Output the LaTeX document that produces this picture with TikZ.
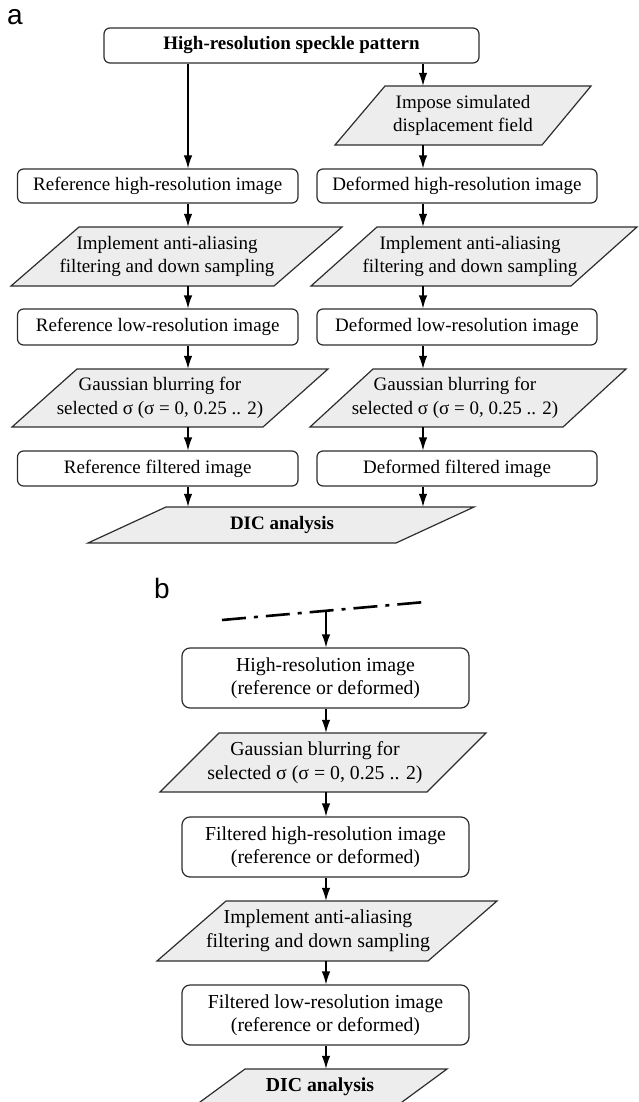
\documentclass[tikz,border=0pt]{standalone}
\usepackage{fontspec}
\setmainfont{Liberation Serif}
\newfontfamily\labfont{Liberation Sans}
\usetikzlibrary{arrows.meta}
\definecolor{parafill}{RGB}{237,237,237}
\definecolor{edge}{RGB}{45,45,45}
\begin{document}
\begin{tikzpicture}[x=1pt,y=-1pt,
  box/.style={draw=edge, line width=1.2pt, rounded corners=6pt, fill=white, align=center, inner sep=0pt},
  bbox/.style={box, rounded corners=8pt, minimum width=287pt, minimum height=60pt},
  txt/.style={align=center, inner sep=0pt},
  para/.style={draw=edge, fill=parafill, line width=1.2pt, line join=miter},
  arr/.style={-{Latex[length=13pt,width=8.5pt]}, line width=1.2pt},
  fa/.style={font=\fontsize{19}{23.5}\selectfont},
  fb/.style={font=\fontsize{19.8}{23.5}\selectfont},
  lab/.style={font=\labfont\fontsize{28}{30}\selectfont, anchor=base west, inner sep=0pt}]
\useasboundingbox (0,0) rectangle (639,1102);
\clip (0,0) rectangle (639,1102);

% ---------- parallelogram shapes ----------
\draw[para] (385,86) -- (591,86) -- (542,145) -- (335,145) -- cycle;
\draw[para] (79,227) -- (342,227) -- (274,286) -- (11,286) -- cycle;
\draw[para] (377,227) -- (637,227) -- (571,286) -- (311,286) -- cycle;
\draw[para] (77,369) -- (328,369) -- (263,427) -- (12,427) -- cycle;
\draw[para] (373,369) -- (626,369) -- (563,427) -- (310,427) -- cycle;
\draw[para] (166,507) -- (474,507) -- (396,543) -- (88,543) -- cycle;
\draw[para] (219,733) -- (486,733) -- (427,792) -- (160,792) -- cycle;
\draw[para] (226,901) -- (497,901) -- (428,961) -- (157,961) -- cycle;
\draw[para] (245,1069) -- (447,1069) -- (398,1105) -- (196,1105) -- cycle;

% ---------- labels ----------
\node[lab] (la) at (7,25) {a};
\node[lab] (lb) at (154,598) {b};

% ---------- part a ----------
\coordinate (cL) at (188,0);
\coordinate (cR) at (423,0);
\node[box, fa, minimum width=375pt, minimum height=35pt] (top) at (291.5,45.5) {\bfseries High-resolution speckle pattern};
\node[txt, fa, minimum height=59pt] (imp) at (463,115.5) {Impose simulated\\displacement field};
\node[box, fa, minimum width=280.5pt, minimum height=34pt] (refhi) at (157.75,186) {Reference high-resolution image};
\node[box, fa, minimum width=280pt, minimum height=34pt] (defhi) at (457,186) {Deformed high-resolution image};
\node[txt, fa, minimum height=59pt] (aaL) at (167,256.5) {Implement anti-aliasing\\filtering and down sampling};
\node[txt, fa, minimum height=59pt] (aaR) at (470,256.5) {Implement anti-aliasing\\filtering and down sampling};
\node[box, fa, minimum width=280.5pt, minimum height=36pt] (reflo) at (157.75,327) {Reference low-resolution image};
\node[box, fa, minimum width=280pt, minimum height=36pt] (deflo) at (457,327) {Deformed low-resolution image};
\node[txt, fa, minimum height=58pt] (gaL) at (160,398) {Gaussian blurring for\\selected σ (σ = 0, 0.25 .. 2)};
\node[txt, fa, minimum height=58pt] (gaR) at (455,398) {Gaussian blurring for\\selected σ (σ = 0, 0.25 .. 2)};
\node[box, fa, minimum width=280.5pt, minimum height=35pt] (reff) at (157.75,468.5) {Reference filtered image};
\node[box, fa, minimum width=280pt, minimum height=35pt] (deff) at (457,468.5) {Deformed filtered image};
\node[txt, fa, minimum height=36pt] (dica) at (282,525) {\bfseries DIC analysis};

\draw[arr] (top.south -| cL) -- (refhi.north -| cL);
\draw[arr] (top.south -| cR) -- (imp.north -| cR);
\draw[arr] (imp.south -| cR) -- (defhi.north -| cR);
\draw[arr] (refhi.south -| cL) -- (aaL.north -| cL);
\draw[arr] (defhi.south -| cR) -- (aaR.north -| cR);
\draw[arr] (aaL.south -| cL) -- (reflo.north -| cL);
\draw[arr] (aaR.south -| cR) -- (deflo.north -| cR);
\draw[arr] (reflo.south -| cL) -- (gaL.north -| cL);
\draw[arr] (deflo.south -| cR) -- (gaR.north -| cR);
\draw[arr] (gaL.south -| cL) -- (reff.north -| cL);
\draw[arr] (gaR.south -| cR) -- (deff.north -| cR);
\draw[arr] (reff.south -| cL) -- (dica.north -| cL);
\draw[arr] (deff.south -| cR) -- (dica.north -| cR);

% ---------- part b ----------
\coordinate (cB) at (326,0);
\coordinate (dl1) at (222,620);
\coordinate (dl2) at (425,602);
\coordinate (dstart) at (326,611);
\draw[line width=2.6pt, dash pattern=on 24pt off 8pt on 4pt off 8pt] (dl1) -- (dl2);
\node[bbox, fb] (hib) at (325.5,678) {High-resolution image\\(reference or deformed)};
\node[txt, fb, minimum height=59pt] (gaB) at (315,762.5) {Gaussian blurring for\\selected σ (σ = 0, 0.25 .. 2)};
\node[bbox, fb] (fhib) at (325.5,847) {Filtered high-resolution image\\(reference or deformed)};
\node[txt, fb, minimum height=60pt] (aaB) at (318,931) {Implement anti-aliasing\\filtering and down sampling};
\node[bbox, fb] (flb) at (325.5,1015) {Filtered low-resolution image\\(reference or deformed)};
\node[txt, fb, minimum height=36pt] (dicb) at (320,1087) {\bfseries DIC analysis};

\draw[arr] (dstart) -- (hib.north -| cB);
\draw[arr] (hib.south -| cB) -- (gaB.north -| cB);
\draw[arr] (gaB.south -| cB) -- (fhib.north -| cB);
\draw[arr] (fhib.south -| cB) -- (aaB.north -| cB);
\draw[arr] (aaB.south -| cB) -- (flb.north -| cB);
\draw[arr] (flb.south -| cB) -- (dicb.north -| cB);
\end{tikzpicture}
\end{document}
